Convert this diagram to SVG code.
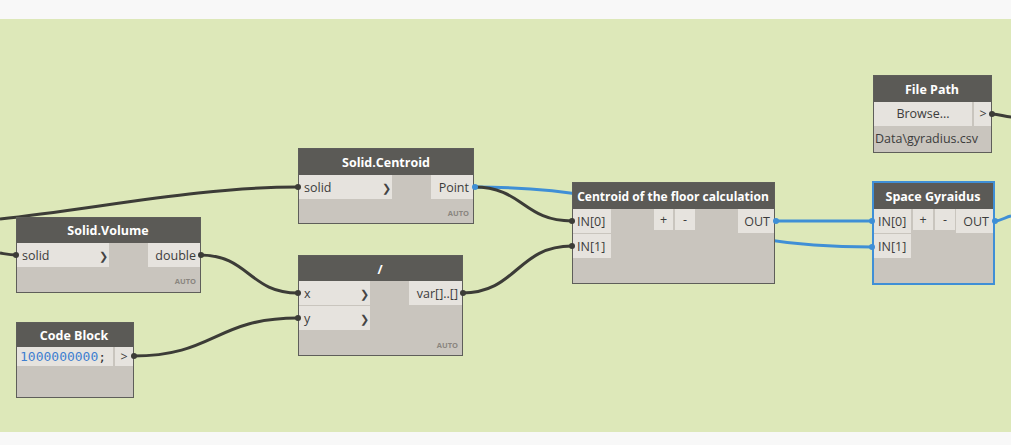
<svg xmlns="http://www.w3.org/2000/svg" width="1011" height="445" viewBox="0 0 1011 445">
<defs>
<style>
.hdr{fill:#5b5a56}
.body{fill:#c9c5be;stroke:#5e5e5a;stroke-width:1}
.sel{fill:#c9c5be;stroke:#3f8fd6;stroke-width:2}
.port{fill:#e6e3de}
.title{font-family:"Open Sans","Noto Sans",sans-serif;font-weight:bold;font-size:12.5px;fill:#ffffff;text-anchor:middle}
.lbl{font-family:"Open Sans","Noto Sans",sans-serif;font-size:12.5px;fill:#3c3c3c}
.r{text-anchor:end}
.m{text-anchor:middle}
.chev{font-family:"DejaVu Sans",sans-serif;font-size:11px;fill:#444}
.auto{font-family:"Open Sans","Noto Sans",sans-serif;font-weight:bold;font-size:7.5px;fill:#8a8680;text-anchor:end}
.w{fill:none;stroke:#3c3c37;stroke-width:3}
.wb{fill:none;stroke:#3f8fd6;stroke-width:3}
.dot{fill:#3c3c37}
.dotb{fill:#3f8fd6}
</style>
</defs>
<rect x="0" y="0" width="1011" height="445" fill="#f8f8f8"/>
<rect x="0" y="19" width="1011" height="413" fill="#dde8b9"/>

<g id="connectors">
<path class="w" d="M0,219 C100,208 200,187 298,187"/>
<path class="w" d="M0,253 C6,254 10,255 16,255"/>
<path class="w" d="M200,255 C249,255 249,293 298,293"/>
<path class="w" d="M133,356 C215,356 215,318 298,318"/>
<path class="wb" d="M474,187 C673,187 673,247 872,247"/>
<path class="w" d="M474,187 C523,187 523,221 572,221"/>
<path class="w" d="M462,293 C517,293 517,246 572,246"/>
<path class="wb" d="M775,221 C823,221 823,221 872,221"/>
<path class="wb" d="M994,221 C1002,221 1005,217 1011,216"/>
<path class="w" d="M992,114 C1000,114 1004,117 1011,117"/>
</g>

<g id="solid-volume">
<rect class="body" x="16.5" y="217.5" width="184" height="75"/>
<rect class="hdr" x="17" y="218" width="183" height="25"/>
<text class="title" x="108" y="235">Solid.Volume</text>
<rect class="port" x="17" y="243" width="92" height="24"/>
<rect class="port" x="148" y="243" width="52" height="24"/>
<text class="lbl" x="22" y="260">solid</text>
<text class="chev" x="99" y="260">❯</text>
<text class="lbl r" x="196" y="260">double</text>
<text class="auto" x="196" y="284">AUTO</text>
</g>

<g id="solid-centroid">
<rect class="body" x="298.5" y="148.5" width="175" height="75"/>
<rect class="hdr" x="299" y="149" width="174" height="26"/>
<text class="title" x="386" y="167">Solid.Centroid</text>
<rect class="port" x="299" y="175" width="93" height="24"/>
<rect class="port" x="431" y="175" width="42" height="24"/>
<text class="lbl" x="304" y="192">solid</text>
<text class="chev" x="382" y="192">❯</text>
<text class="lbl r" x="469" y="192">Point</text>
<text class="auto" x="469" y="216">AUTO</text>
</g>

<g id="code-block">
<rect class="body" x="16.5" y="322.5" width="117" height="75"/>
<rect class="hdr" x="17" y="323" width="116" height="24"/>
<text class="title" x="74" y="340">Code Block</text>
<rect class="port" x="17" y="347" width="96" height="19"/>
<rect class="port" x="115" y="347" width="18" height="19"/>
<text x="20" y="361" font-family="'DejaVu Sans Mono','Liberation Mono',monospace" font-size="13px" fill="#3f7fd0">1000000000<tspan fill="#333">;</tspan></text>
<text class="lbl m" x="124" y="361">&gt;</text>
</g>

<g id="divide">
<rect class="body" x="298.5" y="255.5" width="164" height="100"/>
<rect class="hdr" x="299" y="256" width="163" height="25"/>
<text class="title" x="380" y="274">/</text>
<rect class="port" x="299" y="281" width="71" height="24"/>
<rect class="port" x="299" y="306" width="71" height="24"/>
<rect class="port" x="409" y="281" width="53" height="24"/>
<text class="lbl" x="304" y="298">x</text>
<text class="lbl" x="304" y="323">y</text>
<text class="chev" x="360" y="298">❯</text>
<text class="chev" x="360" y="323">❯</text>
<text class="lbl r" x="458" y="298">var[]..[]</text>
<text class="auto" x="458" y="348">AUTO</text>
</g>

<g id="centroid-floor">
<rect class="body" x="572.5" y="182.5" width="202" height="101"/>
<rect class="hdr" x="573" y="183" width="201" height="26"/>
<text class="title" x="673" y="201" style="font-size:12px">Centroid of the floor calculation</text>
<rect class="port" x="573" y="209" width="38" height="24"/>
<rect class="port" x="573" y="234" width="38" height="24"/>
<rect class="port" x="654" y="209" width="19" height="21"/>
<rect class="port" x="675" y="209" width="20" height="21"/>
<rect class="port" x="738" y="209" width="36" height="24"/>
<text class="lbl" x="577" y="226">IN[0]</text>
<text class="lbl" x="577" y="251">IN[1]</text>
<text class="lbl m" x="663.5" y="224">+</text>
<text class="lbl m" x="685" y="224">-</text>
<text class="lbl r" x="770" y="226">OUT</text>
</g>

<g id="file-path">
<rect class="body" x="873.5" y="75.5" width="118" height="77"/>
<rect class="hdr" x="874" y="76" width="117" height="26"/>
<text class="title" x="932" y="94">File Path</text>
<rect class="port" x="874" y="102" width="98" height="24"/>
<rect class="port" x="974" y="102" width="17" height="24"/>
<text class="lbl m" x="923" y="118">Browse...</text>
<text class="lbl m" x="983" y="118">&gt;</text>
<text class="lbl" x="875" y="143" fill="#222">Data\gyradius.csv</text>
</g>

<g id="space-gyraidus">
<rect class="sel" x="873" y="182" width="121" height="102"/>
<rect class="hdr" x="874" y="183" width="119" height="26"/>
<text class="title" x="933" y="201">Space Gyraidus</text>
<rect class="port" x="874" y="209" width="37" height="24"/>
<rect class="port" x="874" y="234" width="37" height="24"/>
<rect class="port" x="913" y="209" width="20" height="21"/>
<rect class="port" x="935" y="209" width="20" height="21"/>
<rect class="port" x="956" y="209" width="37" height="24"/>
<text class="lbl" x="878" y="226">IN[0]</text>
<text class="lbl" x="878" y="251">IN[1]</text>
<text class="lbl m" x="923" y="224">+</text>
<text class="lbl m" x="945" y="224">-</text>
<text class="lbl r" x="989" y="226">OUT</text>
</g>

<g id="port-dots">
<circle class="dot" cx="298" cy="187" r="3"/>
<circle class="dot" cx="16" cy="255" r="3"/>
<circle class="dot" cx="201" cy="255" r="3"/>
<circle class="dot" cx="298" cy="293" r="3"/>
<circle class="dot" cx="134" cy="356" r="3"/>
<circle class="dot" cx="298" cy="318" r="3"/>
<circle class="dotb" cx="475" cy="187" r="3"/>
<circle class="dot" cx="572" cy="221" r="3"/>
<circle class="dot" cx="572" cy="246" r="3"/>
<circle class="dot" cx="463" cy="293" r="3"/>
<circle class="dotb" cx="776" cy="221" r="3"/>
<circle class="dotb" cx="872" cy="221" r="3"/>
<circle class="dotb" cx="872" cy="247" r="3"/>
<circle class="dotb" cx="995" cy="221" r="3"/>
<circle class="dot" cx="992" cy="114" r="3"/>
</g>
</svg>
